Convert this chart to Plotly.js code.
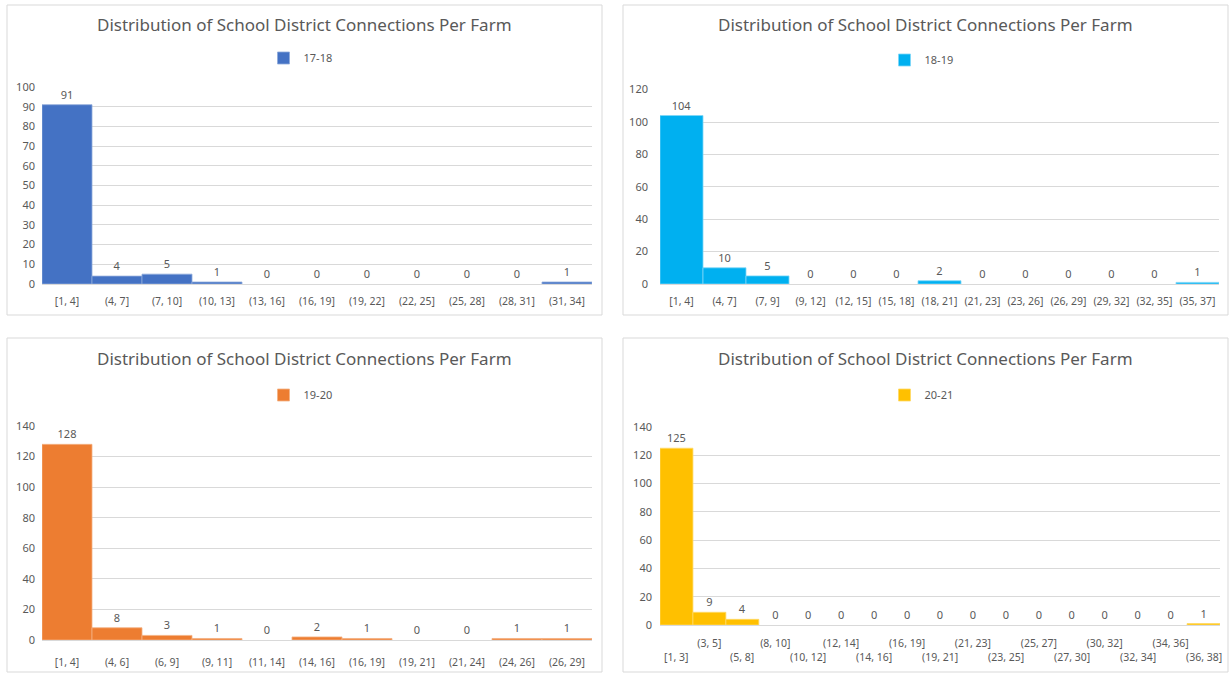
<!DOCTYPE html>
<html>
<head>
<meta charset="utf-8">
<script src="https://cdn.plot.ly/plotly-3.0.1.min.js"></script>
<style>
  html, body { margin: 0; padding: 0; background: #ffffff; }
  #chart { width: 1231px; height: 674px; }
</style>
</head>
<body>
<div id="chart"></div>
<script>
// Connection-count bins and farm counts for each school year
const bins1718 = ['[1, 4]', '(4, 7]', '(7, 10]', '(10, 13]', '(13, 16]', '(16, 19]', '(19, 22]', '(22, 25]', '(25, 28]', '(28, 31]', '(31, 34]'];
const counts1718 = [91, 4, 5, 1, 0, 0, 0, 0, 0, 0, 1];

const bins1819 = ['[1, 4]', '(4, 7]', '(7, 9]', '(9, 12]', '(12, 15]', '(15, 18]', '(18, 21]', '(21, 23]', '(23, 26]', '(26, 29]', '(29, 32]', '(32, 35]', '(35, 37]'];
const counts1819 = [104, 10, 5, 0, 0, 0, 2, 0, 0, 0, 0, 0, 1];

const bins1920 = ['[1, 4]', '(4, 6]', '(6, 9]', '(9, 11]', '(11, 14]', '(14, 16]', '(16, 19]', '(19, 21]', '(21, 24]', '(24, 26]', '(26, 29]'];
const counts1920 = [128, 8, 3, 1, 0, 2, 1, 0, 0, 1, 1];

const bins2021 = ['[1, 3]', '(3, 5]', '(5, 8]', '(8, 10]', '(10, 12]', '(12, 14]', '(14, 16]', '(16, 19]', '(19, 21]', '(21, 23]', '(23, 25]', '(25, 27]', '(27, 30]', '(30, 32]', '(32, 34]', '(34, 36]', '(36, 38]'];
const counts2021 = [125, 9, 4, 0, 0, 0, 0, 0, 0, 0, 0, 0, 0, 0, 0, 0, 1];

const seriesNames = ['17-18', '18-19', '19-20', '20-21'];
const chartTitle = 'Distribution of School District Connections Per Farm';

const W = 1231, H = 674;
const FONT = 'Noto Sans, Open Sans, sans-serif';
const TEXT = '#595959';
const GRID = '#d9d9d9';

const px = v => v / W;          // horizontal pixel -> paper
const py = v => 1 - v / H;      // vertical pixel -> paper

// Panel geometry (pixels): frame, plot area, title / legend rows
const panels = [
  { bins: bins1718, counts: counts1718, color: '#4472C4', edge: '#8EA9DB', ymax: 100, dtick: 10,
    frame: [7, 5, 602, 315], plot: [42, 87, 592, 284], titleY: 24, legendY: 58, lowerRowY: null, yStand: 6, xStand: 9 },
  { bins: bins1819, counts: counts1819, color: '#00B0F0', edge: '#7FD7F7', ymax: 120, dtick: 20,
    frame: [623, 5, 1228, 315], plot: [660, 89.6, 1219, 284], titleY: 24, legendY: 60, lowerRowY: null, yStand: 11, xStand: 9 },
  { bins: bins1920, counts: counts1920, color: '#ED7D31', edge: '#F4B183', ymax: 140, dtick: 20,
    frame: [7, 338, 602, 672], plot: [42, 426, 592, 640], titleY: 358, legendY: 395, lowerRowY: null, yStand: 6, xStand: 14 },
  { bins: bins2021, counts: counts2021, color: '#FFC000', edge: '#FFD966', ymax: 140, dtick: 20,
    frame: [623, 338, 1228, 672], plot: [660, 427, 1220, 625], titleY: 358, legendY: 395, lowerRowY: 657, yStand: 7, xStand: 10 }
];

const traces = [];
const layout = {
  width: W, height: H,
  margin: { l: 0, r: 0, t: 0, b: 0 },
  paper_bgcolor: '#ffffff',
  plot_bgcolor: '#ffffff',
  font: { family: FONT, color: TEXT, size: 11 },
  bargap: 0,
  shapes: [],
  annotations: []
};

panels.forEach((p, i) => {
  const n = i + 1;
  const sfx = n === 1 ? '' : String(n);
  const xa = 'xaxis' + sfx;
  const ya = 'yaxis' + sfx;
  const lg = 'legend' + sfx;

  traces.push({
    type: 'bar',
    name: seriesNames[i],
    x: p.bins,
    y: p.counts,
    xaxis: 'x' + sfx,
    yaxis: 'y' + sfx,
    legend: lg,
    showlegend: true,
    marker: {
      color: p.color,
      line: { color: p.edge, width: p.counts.map(v => (v > 0 ? 0.8 : 0)) }
    },
    text: p.counts.map(String),
    texttemplate: '%{text}',
    textposition: 'outside',
    constraintext: 'none',
    cliponaxis: false,
    textfont: { family: FONT, size: 11, color: TEXT },
    hoverinfo: 'x+y'
  });

  // Crowded panel: odd bins on the axis row, even bins on a second row below
  const staggered = p.lowerRowY !== null;
  const axisBins = staggered ? p.bins.filter((b, k) => k % 2 === 1) : p.bins;

  layout[xa] = {
    domain: [px(p.plot[0]), px(p.plot[2])],
    anchor: 'y' + sfx,
    type: 'category',
    categoryorder: 'array',
    categoryarray: p.bins,
    range: [-0.5, p.bins.length - 0.5],
    tickmode: 'array',
    tickvals: axisBins,
    ticktext: axisBins,
    tickangle: 0,
    ticks: '',
    showgrid: false,
    showline: false,
    zeroline: false,
    ticklabelstandoff: p.xStand,
    tickfont: { family: FONT, size: 10.5, color: TEXT },
    fixedrange: true
  };
  layout[ya] = {
    domain: [py(p.plot[3]), py(p.plot[1])],
    anchor: 'x' + sfx,
    range: [0, p.ymax],
    dtick: p.dtick,
    tick0: 0,
    showgrid: true,
    gridcolor: GRID,
    gridwidth: 1,
    zeroline: true,
    zerolinecolor: GRID,
    zerolinewidth: 1,
    showline: false,
    ticks: '',
    ticklabelstandoff: p.yStand,
    tickfont: { family: FONT, size: 11, color: TEXT },
    fixedrange: true
  };

  if (staggered) {
    p.bins.forEach((b, k) => {
      if (k % 2 !== 0) return;
      layout.annotations.push({
        xref: 'x' + sfx, yref: 'paper',
        x: b, y: py(p.lowerRowY),
        xanchor: 'center', yanchor: 'middle',
        showarrow: false,
        text: b,
        font: { family: FONT, size: 10.5, color: TEXT }
      });
    });
  }

  layout[lg] = {
    x: px((p.frame[0] + p.frame[2]) / 2 - 4),
    y: py(p.legendY),
    xanchor: 'center',
    yanchor: 'middle',
    orientation: 'h',
    bgcolor: 'rgba(0,0,0,0)',
    font: { family: FONT, size: 11, color: TEXT },
    itemwidth: 30
  };

  // Chart frame
  layout.shapes.push({
    type: 'rect', xref: 'paper', yref: 'paper',
    x0: px(p.frame[0]), x1: px(p.frame[2]),
    y0: py(p.frame[3]), y1: py(p.frame[1]),
    line: { color: GRID, width: 1 },
    fillcolor: 'rgba(0,0,0,0)',
    layer: 'below'
  });

  // Chart title
  layout.annotations.push({
    xref: 'paper', yref: 'paper',
    x: px((p.frame[0] + p.frame[2]) / 2),
    y: py(p.titleY),
    xanchor: 'center', yanchor: 'middle',
    showarrow: false,
    text: chartTitle,
    font: { family: FONT, size: 17, color: TEXT }
  });
});

Plotly.newPlot('chart', traces, layout, { displayModeBar: false, staticPlot: true });
</script>
</body>
</html>
